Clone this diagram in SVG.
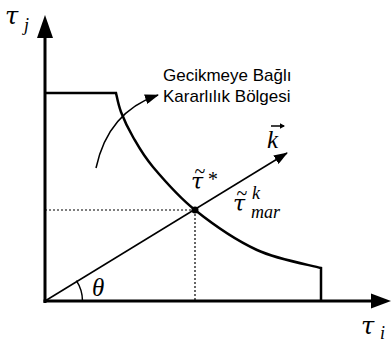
<svg xmlns="http://www.w3.org/2000/svg" width="392" height="342" viewBox="0 0 392 342">
<style>
.ax{stroke:#000;stroke-width:3;fill:none}
.rg{stroke:#000;stroke-width:2.5;fill:none}
.thin{stroke:#000;stroke-width:1.5;fill:none}
.dot{stroke:#000;stroke-width:1.2;stroke-dasharray:2,2;fill:none}
.lbl{font-family:"Liberation Sans",Arial,sans-serif;font-size:17px;fill:#000}
.m{font-family:"Liberation Serif","Times New Roman",serif;font-style:italic;fill:#000}
.tau{font-family:"DejaVu Serif",serif;font-style:italic;fill:#000}
.t{font-family:"Liberation Serif","Times New Roman",serif;fill:#000;text-anchor:middle}
</style>
<defs>
<marker id="ah" markerWidth="14" markerHeight="10" refX="13" refY="5" orient="auto" markerUnits="userSpaceOnUse">
<path d="M0,0 L14,5 L0,10 Z" fill="#000"/>
</marker>
</defs>
<g id="connectors">
<path id="k-line" class="thin" d="M45,301 L287,153" marker-end="url(#ah)"/>
<path id="curved-arrow" class="thin" d="M96,168 Q108,112 158,95" marker-end="url(#ah)"/>
<line class="dot" x1="45" y1="210" x2="195" y2="210"/>
<line class="dot" x1="195" y1="210" x2="195" y2="301"/>
<path id="theta-arc" class="thin" d="M82.5,301 A37.5,37.5 0 0 0 76.4,280.7"/>
</g>
<g id="axes">
<line class="ax" x1="45" y1="303" x2="45" y2="34"/>
<polygon points="45,15 37,38 53,38" fill="#000"/>
<line class="ax" x1="43.5" y1="301" x2="374" y2="301"/>
<polygon points="391,301 371,293.5 371,308.5" fill="#000"/>
</g>
<g id="region">
<path class="rg" d="M45,93 L116,93 C116.8,96.2 118.2,104.7 121,112 C123.8,119.3 127.7,127.8 133,137 C138.3,146.2 142.7,154.8 153,167 C163.3,179.2 177.7,196.2 195,210 C212.3,223.8 236,240.3 257,250 C278,259.7 310.3,265 321,268 L321,301"/>
</g>
<g id="point">
<circle cx="195" cy="210" r="3.5" fill="#000"/>
</g>
<g id="labels">
<text class="lbl" x="163" y="81">Gecikmeye Bağlı</text>
<text class="lbl" x="163" y="102">Kararlılık Bölgesi</text>
<text class="tau" x="5" y="24" font-size="24">τ</text>
<text class="m" x="24" y="31" font-size="18">j</text>
<text class="tau" x="361" y="334" font-size="24">τ</text>
<text class="m" x="380" y="339" font-size="18">i</text>
<text class="m" x="92" y="296" font-size="25">θ</text>
<text class="m" x="267" y="148" font-size="25">k</text>
<path class="thin" d="M271,126 L284,126" stroke-width="1.2"/>
<path d="M285,126 L280,123.3 L280,128.7 Z" fill="#000"/>
<text class="tau" x="191" y="189" font-size="22">τ</text>
<text class="t" x="200" y="178" font-size="20">~</text>
<text class="m" x="207" y="186" font-size="20" font-style="normal">*</text>
<text class="tau" x="233" y="211" font-size="22">τ</text>
<text class="t" x="242" y="200" font-size="20">~</text>
<text class="m" x="252" y="199" font-size="18">k</text>
<text class="m" x="251" y="218" font-size="18">mar</text>
</g>
</svg>
